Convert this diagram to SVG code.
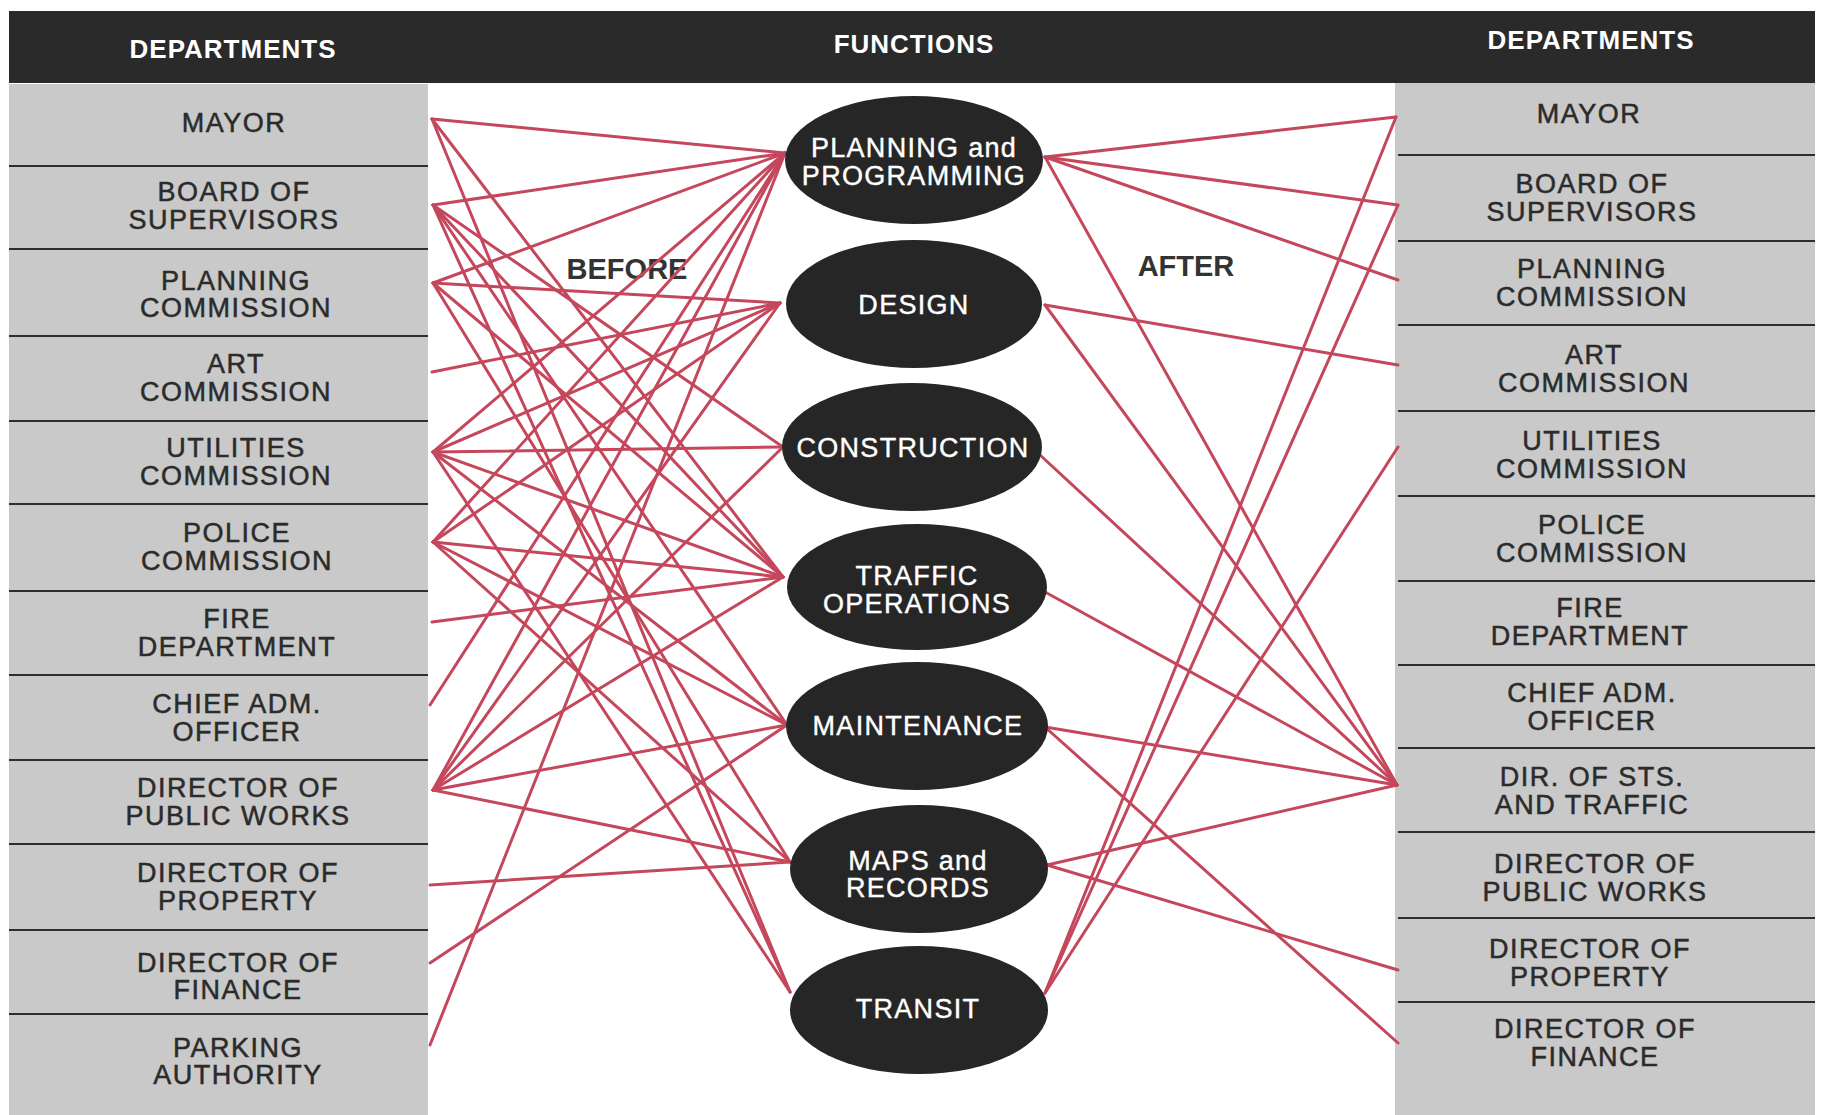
<svg xmlns="http://www.w3.org/2000/svg" width="1822" height="1115" viewBox="0 0 1822 1115">
<style>
.t{font-family:"Liberation Sans",Arial,sans-serif;font-size:27px;letter-spacing:1.5px;fill:#2b2b2b;stroke:#2b2b2b;stroke-width:0.5;text-anchor:middle}
.f{font-family:"Liberation Sans",Arial,sans-serif;font-size:27px;letter-spacing:1.3px;fill:#ffffff;stroke:#ffffff;stroke-width:0.4;text-anchor:middle}
.h{font-family:"Liberation Sans",Arial,sans-serif;font-size:26px;font-weight:bold;letter-spacing:1px;fill:#ffffff;text-anchor:middle}
.lab{font-family:"Liberation Sans",Arial,sans-serif;font-size:29px;font-weight:bold;fill:#333333;text-anchor:middle}
.sep{stroke:#2e2e2e;stroke-width:2}
.ell{fill:#262626}
#connectors line{stroke:#c4475c;stroke-width:3;stroke-linecap:round}
</style>
<rect x="0" y="0" width="1822" height="1115" fill="#ffffff"/>
<rect x="9" y="84" width="419" height="1031" fill="#c9c9c9"/>
<rect x="1395" y="77" width="420" height="1038" fill="#c9c9c9"/>
<rect x="9" y="11" width="1806" height="72" fill="#2a2a2a"/>
<text class="h" x="233" y="58">DEPARTMENTS</text>
<text class="h" x="914" y="53">FUNCTIONS</text>
<text class="h" x="1591" y="49">DEPARTMENTS</text>
<text class="lab" x="627" y="279">BEFORE</text>
<text class="lab" x="1186" y="276">AFTER</text>

<g id="connectors">
<line x1="432" y1="119" x2="785" y2="153"/>
<line x1="432" y1="119" x2="783" y2="577"/>
<line x1="432" y1="119" x2="790" y2="992"/>
<line x1="433" y1="205" x2="785" y2="153"/>
<line x1="433" y1="205" x2="783" y2="447"/>
<line x1="433" y1="205" x2="783" y2="577"/>
<line x1="433" y1="205" x2="787" y2="725"/>
<line x1="433" y1="205" x2="790" y2="992"/>
<line x1="433" y1="283" x2="785" y2="153"/>
<line x1="433" y1="283" x2="780" y2="303"/>
<line x1="433" y1="283" x2="783" y2="577"/>
<line x1="433" y1="283" x2="790" y2="862"/>
<line x1="432" y1="372" x2="780" y2="303"/>
<line x1="433" y1="452" x2="785" y2="153"/>
<line x1="433" y1="452" x2="780" y2="303"/>
<line x1="433" y1="452" x2="783" y2="447"/>
<line x1="433" y1="452" x2="783" y2="577"/>
<line x1="433" y1="452" x2="787" y2="725"/>
<line x1="433" y1="452" x2="790" y2="992"/>
<line x1="433" y1="542" x2="785" y2="153"/>
<line x1="433" y1="542" x2="780" y2="303"/>
<line x1="433" y1="542" x2="783" y2="577"/>
<line x1="433" y1="542" x2="787" y2="725"/>
<line x1="433" y1="542" x2="790" y2="862"/>
<line x1="432" y1="622" x2="783" y2="577"/>
<line x1="430" y1="705" x2="785" y2="153"/>
<line x1="433" y1="790" x2="785" y2="153"/>
<line x1="433" y1="790" x2="780" y2="303"/>
<line x1="433" y1="790" x2="783" y2="447"/>
<line x1="433" y1="790" x2="783" y2="577"/>
<line x1="433" y1="790" x2="787" y2="725"/>
<line x1="433" y1="790" x2="790" y2="862"/>
<line x1="430" y1="885" x2="790" y2="862"/>
<line x1="430" y1="963" x2="787" y2="725"/>
<line x1="430" y1="1045" x2="785" y2="153"/>

<line x1="1045" y1="157" x2="1396" y2="117"/>
<line x1="1045" y1="157" x2="1398" y2="205"/>
<line x1="1045" y1="157" x2="1398" y2="280"/>
<line x1="1045" y1="157" x2="1397" y2="785"/>
<line x1="1045" y1="305" x2="1398" y2="365"/>
<line x1="1045" y1="305" x2="1397" y2="785"/>
<line x1="1040" y1="455" x2="1397" y2="785"/>
<line x1="1045" y1="592" x2="1397" y2="785"/>
<line x1="1045" y1="727" x2="1397" y2="785"/>
<line x1="1045" y1="727" x2="1398" y2="1043"/>
<line x1="1047" y1="865" x2="1397" y2="785"/>
<line x1="1047" y1="865" x2="1398" y2="970"/>
<line x1="1045" y1="993" x2="1396" y2="117"/>
<line x1="1045" y1="993" x2="1398" y2="205"/>
<line x1="1045" y1="993" x2="1398" y2="447"/>
</g>

<g id="f-planning"><ellipse class="ell" cx="914" cy="160" rx="129" ry="64"/><text class="f" x="914" y="157">PLANNING and</text><text class="f" x="914" y="185">PROGRAMMING</text></g>
<g id="f-design"><ellipse class="ell" cx="914" cy="304" rx="128" ry="64"/><text class="f" x="914" y="314">DESIGN</text></g>
<g id="f-construction"><ellipse class="ell" cx="912" cy="447" rx="130" ry="64"/><text class="f" x="913" y="457">CONSTRUCTION</text></g>
<g id="f-traffic"><ellipse class="ell" cx="917" cy="587" rx="130" ry="63"/><text class="f" x="917" y="585">TRAFFIC</text><text class="f" x="917" y="613">OPERATIONS</text></g>
<g id="f-maintenance"><ellipse class="ell" cx="917" cy="726" rx="131" ry="64"/><text class="f" x="918" y="735">MAINTENANCE</text></g>
<g id="f-maps"><ellipse class="ell" cx="919" cy="869" rx="129" ry="64"/><text class="f" x="918" y="870">MAPS and</text><text class="f" x="918" y="897">RECORDS</text></g>
<g id="f-transit"><ellipse class="ell" cx="919" cy="1010" rx="129" ry="64"/><text class="f" x="918" y="1018">TRANSIT</text></g>

<g id="l-mayor"><text class="t" x="234" y="132">MAYOR</text><line class="sep" x1="9" y1="166" x2="428" y2="166"/></g>
<g id="l-bos"><text class="t" x="234" y="201">BOARD OF</text><text class="t" x="234" y="229">SUPERVISORS</text><line class="sep" x1="9" y1="249" x2="428" y2="249"/></g>
<g id="l-planning"><text class="t" x="236" y="290">PLANNING</text><text class="t" x="236" y="317">COMMISSION</text><line class="sep" x1="9" y1="336" x2="428" y2="336"/></g>
<g id="l-art"><text class="t" x="236" y="373">ART</text><text class="t" x="236" y="401">COMMISSION</text><line class="sep" x1="9" y1="421" x2="428" y2="421"/></g>
<g id="l-utilities"><text class="t" x="236" y="457">UTILITIES</text><text class="t" x="236" y="485">COMMISSION</text><line class="sep" x1="9" y1="504" x2="428" y2="504"/></g>
<g id="l-police"><text class="t" x="237" y="542">POLICE</text><text class="t" x="237" y="570">COMMISSION</text><line class="sep" x1="9" y1="591" x2="428" y2="591"/></g>
<g id="l-fire"><text class="t" x="237" y="628">FIRE</text><text class="t" x="237" y="656">DEPARTMENT</text><line class="sep" x1="9" y1="675" x2="428" y2="675"/></g>
<g id="l-chief"><text class="t" x="237" y="713">CHIEF  ADM.</text><text class="t" x="237" y="741">OFFICER</text><line class="sep" x1="9" y1="760" x2="428" y2="760"/></g>
<g id="l-dpw"><text class="t" x="238" y="797">DIRECTOR  OF</text><text class="t" x="238" y="825">PUBLIC  WORKS</text><line class="sep" x1="9" y1="844" x2="428" y2="844"/></g>
<g id="l-property"><text class="t" x="238" y="882">DIRECTOR  OF</text><text class="t" x="238" y="910">PROPERTY</text><line class="sep" x1="9" y1="930" x2="428" y2="930"/></g>
<g id="l-finance"><text class="t" x="238" y="972">DIRECTOR  OF</text><text class="t" x="238" y="999">FINANCE</text><line class="sep" x1="9" y1="1014" x2="428" y2="1014"/></g>
<g id="l-parking"><text class="t" x="238" y="1057">PARKING</text><text class="t" x="238" y="1084">AUTHORITY</text></g>

<g id="r-mayor"><text class="t" x="1589" y="123">MAYOR</text><line class="sep" x1="1398" y1="155" x2="1815" y2="155"/></g>
<g id="r-bos"><text class="t" x="1592" y="193">BOARD  OF</text><text class="t" x="1592" y="221">SUPERVISORS</text><line class="sep" x1="1398" y1="241" x2="1815" y2="241"/></g>
<g id="r-planning"><text class="t" x="1592" y="278">PLANNING</text><text class="t" x="1592" y="306">COMMISSION</text><line class="sep" x1="1398" y1="325" x2="1815" y2="325"/></g>
<g id="r-art"><text class="t" x="1594" y="364">ART</text><text class="t" x="1594" y="392">COMMISSION</text><line class="sep" x1="1398" y1="411" x2="1815" y2="411"/></g>
<g id="r-utilities"><text class="t" x="1592" y="450">UTILITIES</text><text class="t" x="1592" y="478">COMMISSION</text><line class="sep" x1="1398" y1="496" x2="1815" y2="496"/></g>
<g id="r-police"><text class="t" x="1592" y="534">POLICE</text><text class="t" x="1592" y="562">COMMISSION</text><line class="sep" x1="1398" y1="581" x2="1815" y2="581"/></g>
<g id="r-fire"><text class="t" x="1590" y="617">FIRE</text><text class="t" x="1590" y="645">DEPARTMENT</text><line class="sep" x1="1398" y1="665" x2="1815" y2="665"/></g>
<g id="r-chief"><text class="t" x="1592" y="702">CHIEF  ADM.</text><text class="t" x="1592" y="730">OFFICER</text><line class="sep" x1="1398" y1="748" x2="1815" y2="748"/></g>
<g id="r-sts"><text class="t" x="1592" y="786">DIR.  OF  STS.</text><text class="t" x="1592" y="814">AND  TRAFFIC</text><line class="sep" x1="1398" y1="832" x2="1815" y2="832"/></g>
<g id="r-dpw"><text class="t" x="1595" y="873">DIRECTOR  OF</text><text class="t" x="1595" y="901">PUBLIC  WORKS</text><line class="sep" x1="1398" y1="918" x2="1815" y2="918"/></g>
<g id="r-property"><text class="t" x="1590" y="958">DIRECTOR  OF</text><text class="t" x="1590" y="986">PROPERTY</text><line class="sep" x1="1398" y1="1002" x2="1815" y2="1002"/></g>
<g id="r-finance"><text class="t" x="1595" y="1038">DIRECTOR  OF</text><text class="t" x="1595" y="1066">FINANCE</text></g>
</svg>
